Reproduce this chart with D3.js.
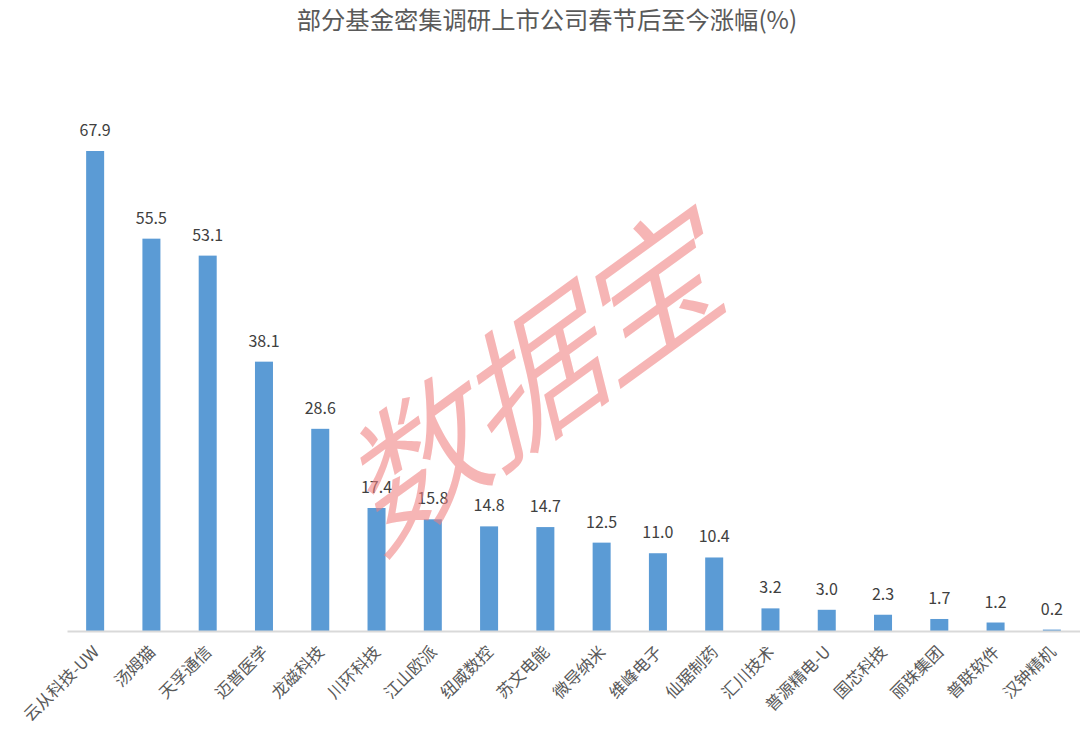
<!DOCTYPE html>
<html>
<head>
<meta charset="utf-8">
<script src="https://cdn.jsdelivr.net/npm/d3@7/dist/d3.min.js"></script>
<style>
  html, body { margin: 0; padding: 0; background: #ffffff; }
  svg { display: block; }
  text { font-family: "Noto Sans CJK SC", "Noto Sans", sans-serif; }
</style>
</head>
<body>
<svg id="chart" width="1080" height="731"></svg>
<script>
// Companies and their gain since the Spring Festival (%)
const companies = [
  "云从科技-UW", "汤姆猫", "天孚通信", "迈普医学", "龙磁科技", "川环科技",
  "江山欧派", "纽威数控", "苏文电能", "微导纳米", "维峰电子", "仙琚制药",
  "汇川技术", "普源精电-U", "国芯科技", "丽珠集团", "普联软件", "汉钟精机"
];
const gains = [
  67.9, 55.5, 53.1, 38.1, 28.6, 17.4,
  15.8, 14.8, 14.7, 12.5, 11.0, 10.4,
  3.2, 3.0, 2.3, 1.7, 1.2, 0.2
];
const chartTitle = "部分基金密集调研上市公司春节后至今涨幅(%)";
const watermark = "数据宝";

const svg = d3.select("#chart");
const W = 1080, H = 731;
const baseY = 631;

const x = d3.scaleBand()
  .domain(companies)
  .range([67, 1080])
  .paddingInner(0.68)
  .paddingOuter(0.34);

const y = d3.scaleLinear()
  .domain([0, 67.9])
  .range([baseY, 151]);

// Title
svg.append("text")
  .attr("x", W / 2 + 7)
  .attr("y", 29)
  .attr("text-anchor", "middle")
  .attr("font-size", 24.3)
  .attr("fill", "#595959")
  .text(chartTitle);

// Bars
svg.append("g")
  .selectAll("rect")
  .data(companies)
  .join("rect")
  .attr("x", d => x(d))
  .attr("width", x.bandwidth())
  .attr("y", (d, i) => y(gains[i]))
  .attr("height", (d, i) => Math.max(0, baseY - y(gains[i])))
  .attr("fill", "#5b9bd5");

// Value labels
svg.append("g")
  .selectAll("text")
  .data(companies)
  .join("text")
  .attr("x", d => x(d) + x.bandwidth() / 2)
  .attr("y", (d, i) => y(gains[i]) - 15)
  .attr("text-anchor", "middle")
  .attr("font-size", 16)
  .attr("fill", "#404040")
  .text((d, i) => gains[i].toFixed(1));

// Category axis
const axis = svg.append("g")
  .attr("transform", `translate(0,${baseY})`)
  .call(d3.axisBottom(x).tickSize(0).tickPadding(0));
axis.select(".domain")
  .attr("stroke", "#d9d9d9")
  .attr("stroke-width", 2);
axis.selectAll(".tick text")
  .attr("font-family", "\"Noto Sans CJK SC\", sans-serif")
  .attr("font-size", 16.5)
  .attr("fill", "#595959")
  .attr("text-anchor", "end")
  .attr("dy", null)
  .attr("y", null)
  .attr("transform", "translate(5,22) rotate(-45)");

// Watermark, slanted across the plot
svg.append("text")
  .attr("transform", "matrix(0.809,-0.588,0.242,0.970,539,364)")
  .attr("text-anchor", "middle")
  .attr("dominant-baseline", "central")
  .attr("font-size", 150)
  .attr("font-weight", 350)
  .attr("fill", "#f08080")
  .attr("fill-opacity", 0.58)
  .selectAll("tspan")
  .data(Array.from(watermark))
  .join("tspan")
  .attr("x", (d, i) => (i - 1) * 144)
  .text(d => d);
</script>
</body>
</html>
